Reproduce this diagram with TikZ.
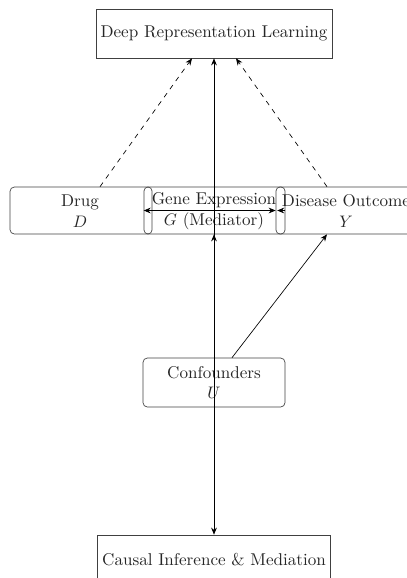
\documentclass[tikz,border=0pt]{standalone}
\usetikzlibrary{arrows.meta,calc}
\begin{document}
\begin{tikzpicture}[x=0.6pt,y=-0.6pt,
  every node/.style={font=\fontsize{10.25pt}{13pt}\selectfont},
  box/.style={draw=black!75, rectangle, inner sep=0pt, text=black!85, align=center},
  rbox/.style={box, rounded corners=2.6pt},
  thin box/.style={draw=black!75, rectangle, rounded corners=2.4pt, inner sep=0pt, minimum height=28.2pt},
  lbl/.style={inner sep=0pt, text=black!85, align=center},
  arr/.style={-{Stealth[length=4.2pt,width=3.4pt]}, black},
  arrboth/.style={{Stealth[length=4.2pt,width=3.4pt]}-{Stealth[length=4.2pt,width=3.4pt]}, black},
  dasharr/.style={arr, dashed}]
\useasboundingbox (0,0) rectangle (407,578);
\clip (0,0) rectangle (407,578);
% boxes
\node[box, minimum width=141.6pt, minimum height=29.4pt] (deep) at (214,33.5) {Deep Representation Learning};
\node[box, minimum width=139.8pt, minimum height=29.4pt] (causal) at (214,559.5) {Causal Inference \& Mediation};
\node[rbox, minimum width=85.2pt, minimum height=29.4pt, font=\fontsize{10.25pt}{12pt}\selectfont] (conf) at (214,382.5) {Confounders\\$U$};
\node[rbox, minimum width=246pt, minimum height=28.2pt] (row) at (215,210.5) {};
\node[thin box, minimum width=4.8pt] (r1) at (148,210.5) {};
\node[thin box, minimum width=5.4pt] (r2) at (280.5,210.5) {};
% texts in row
\node[lbl] (drug) at (80,211) {Drug\\$D$};
\node[lbl] (gene) at (214,211) {Gene Expression\\$G$ (Mediator)};
\node[lbl] (dis) at (346,211) {Disease Outcome\\$Y$};
% connectors
\draw[dasharr] ($(row.north)+(-115,0)$) -- ($(deep.south)+(-22,0)$);
\draw[dasharr] ($(row.north)+(112,0)$) -- ($(deep.south)+(22,0)$);
\draw[arrboth] (causal.north) -- (deep.south);
\draw[arr] (conf.north) -- (conf.north |- row.south);
\draw[arr] ($(conf.north)+(18,0)$) -- ($(row.south)+(112,0)$);
\draw[arrboth] (r1.west) -- (r2.west);
\draw[arr] (r2.east) -- ($(r2.west)+(1.5,0)$);
\end{tikzpicture}
\end{document}
